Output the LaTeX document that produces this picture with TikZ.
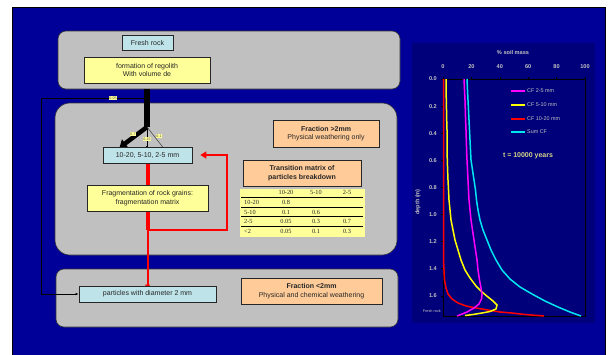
\documentclass[tikz,border=0pt]{standalone}
\usepackage{fontspec}
\setmainfont{Liberation Sans}
\newfontfamily\tabfont{Liberation Serif}
\usetikzlibrary{arrows.meta}
\definecolor{bgblue}{RGB}{0,0,153}
\definecolor{chartblue}{RGB}{0,0,122}
\definecolor{panelgray}{RGB}{192,192,192}
\definecolor{lblue}{RGB}{190,227,232}
\definecolor{lyellow}{RGB}{255,255,153}
\definecolor{peach}{RGB}{255,204,153}
\definecolor{tickgray}{RGB}{195,195,195}
\definecolor{ccyan}{RGB}{0,230,240}
\definecolor{cmag}{RGB}{255,0,255}
\definecolor{cyel}{RGB}{255,255,0}
\pgfdeclarelayer{base}
\pgfdeclarelayer{panels}
\pgfdeclarelayer{links}
\pgfsetlayers{base,panels,links,main}
\begin{document}
\begin{tikzpicture}[x=1pt,y=-1pt,
  box/.style={draw=black!85, line width=0.7pt, inner sep=0pt, align=center,
    font=\fontsize{7}{8.6}\selectfont, text=black!85},
  bluebox/.style={box, fill=lblue},
  yelbox/.style={box, fill=lyellow},
  peachbox/.style={box, fill=peach},
  panel/.style={fill=panelgray, draw=black!80, line width=0.6pt},
  wlab/.style={fill=lyellow, font=\fontsize{3.6}{4}\selectfont, inner sep=0.6pt, text=black!70},
  tabtxt/.style={font=\tabfont\fontsize{6.3}{7}\selectfont, inner sep=0pt, text=black!85},
  ticklab/.style={text=tickgray, font=\bfseries\fontsize{5.6}{6}\selectfont, inner sep=0pt},
  legtxt/.style={text=tickgray, font=\fontsize{5.4}{6}\selectfont, inner sep=0pt, anchor=west},
  curve/.style={line width=1.5pt, mark=square*, mark size=0.9pt, mark options={line width=0.3pt}},
]
\useasboundingbox (0,0) rectangle (610,354);
\begin{pgfonlayer}{base}
\fill[white] (0,0) rectangle (610,354);
\draw[fill=bgblue, draw=black, line width=0.5pt] (12,7) rectangle (605,355);
\end{pgfonlayer}

% ---------- panels ----------
\begin{pgfonlayer}{panels}
\draw[panel, rounded corners=8pt] (58,31) rectangle (400,89);
\draw[panel, rounded corners=15pt] (55,103) rectangle (397,255);
\draw[panel, rounded corners=8pt] (56,269) rectangle (398,327);
\end{pgfonlayer}

% ---------- nodes ----------
\node[bluebox, minimum width=51pt, minimum height=15pt] (fresh) at (147.5,42.5) {Fresh rock};
\node[yelbox, minimum width=126pt, minimum height=26pt] (form) at (147,70) {formation of regolith\\With volume de};
\node[bluebox, minimum width=89pt, minimum height=16pt] (sizes) at (147.5,155) {10-20, 5-10, 2-5 mm};
\node[yelbox, minimum width=121pt, minimum height=26pt] (frag) at (147.5,198) {Fragmentation of rock grains:\\fragmentation matrix};
\node[peachbox, minimum width=106pt, minimum height=27pt] (frac2) at (326,133.5) {\textbf{Fraction >2mm}\\Physical weathering only};
\node[peachbox, minimum width=118pt, minimum height=26pt] (trans) at (302,173) {\textbf{Transition matrix of}\\\textbf{particles breakdown}};
\node[bluebox, minimum width=137pt, minimum height=16pt] (part) at (147.5,294) {particles with diameter 2 mm};
\node[peachbox, minimum width=141pt, minimum height=26pt] (frac3) at (311.5,291) {\textbf{Fraction <2mm}\\Physical and chemical weathering};

% ---------- transition table ----------
\begin{pgfonlayer}{links}
\fill[lyellow] (240,189) rectangle (365,237);
\foreach \yy in {197.5,207,216.5,226}{\draw[black, line width=0.6pt] (241,\yy) -- (363,\yy);}
\end{pgfonlayer}
\node[tabtxt] (h1) at (286,192.5) {10-20};
\node[tabtxt] (h2) at (316,192.5) {5-10};
\node[tabtxt] (h3) at (347,192.5) {2-5};
\node[tabtxt, anchor=west] (r1) at (244,202.5) {10-20};
\node[tabtxt, anchor=west] (r2) at (244,212) {5-10};
\node[tabtxt, anchor=west] (r3) at (244,221.5) {2-5};
\node[tabtxt, anchor=west] (r4) at (244,231.5) {<2};
\node[tabtxt] (c11) at (286,202.5) {0.8};
\node[tabtxt] (c21) at (286,212) {0.1};
\node[tabtxt] (c22) at (316,212) {0.6};
\node[tabtxt] (c31) at (286,221.5) {0.05};
\node[tabtxt] (c32) at (316,221.5) {0.3};
\node[tabtxt] (c33) at (347,221.5) {0.7};
\node[tabtxt] (c41) at (286,231.5) {0.05};
\node[tabtxt] (c42) at (316,231.5) {0.1};
\node[tabtxt] (c43) at (347,231.5) {0.3};

% ---------- connectors ----------
\coordinate (topout) at (147,89);
\coordinate (j05) at (147,98);
\coordinate (split) at (147,127);
\coordinate (lft) at (41,98);
\coordinate (rj) at (147.5,230);
\coordinate (rturn) at (227,230);
\begin{pgfonlayer}{links}
\draw[line width=6pt] (topout) -- (split);
\draw[line width=4.5pt, -{Triangle[length=7pt,width=10pt]}] (split) -- ([xshift=-28pt,yshift=-1pt]sizes.north);
\draw[line width=0.6pt, -{Latex[length=2.5pt,width=2pt]}] (split) -- ([yshift=-2pt]sizes.north -| split);
\draw[line width=0.6pt, black!70] (split) -- ([xshift=17pt,yshift=-2pt]sizes.north -| split);
\draw[line width=0.8pt, -{Latex[length=3pt,width=2.5pt]}] (j05) -- (lft) |- (part.west);
\draw[red, line width=4pt] (sizes.south) -- (rj);
\draw[red, line width=2.6pt, -{Triangle[length=6pt,width=7pt]}] (rj) -- (rturn) |- ([xshift=8pt]sizes.east);
\draw[red, line width=2pt, -{Triangle[length=4pt,width=5pt]}] (rj) -- ([yshift=-3pt]part.north);
\end{pgfonlayer}
\node[wlab] (l05) at (113,98) {0.05};
\node[wlab] (l07) at (133,134) {0.7};
\node[wlab] (l015) at (147,139) {0.15};
\node[wlab] (l01) at (159,136) {0.1};

% ---------- chart ----------
\fill[chartblue] (412,43) rectangle (595,323);
\node[text=tickgray, font=\bfseries\fontsize{5.6}{6}\selectfont] (ctitle) at (513,52) {\% soil mass};
\foreach \v/\lab in {0/0,1/20,2/40,3/60,4/80,5/100}{
  \node[ticklab] at (443+28.4*\v,67) {\lab};
  \draw[black, line width=0.5pt] (443+28.4*\v,79) -- (443+28.4*\v,76.5);
}
\foreach \d/\lab in {0/0.0,1/0.2,2/0.4,3/0.6,4/0.8,5/1.0,6/1.2,7/1.4,8/1.6}{
  \node[ticklab, anchor=east] at (437,79+27.1*\d) {\lab};
  \draw[black, line width=0.5pt] (443,79+27.1*\d) -- (440.5,79+27.1*\d);
}
\node[ticklab, rotate=90] (depthlab) at (418,202) {depth (m)};
\node[text=tickgray, font=\fontsize{3.8}{4}\selectfont, anchor=east, inner sep=0pt] (freshlab) at (441,311.5) {Fresh rock};
\draw[black, line width=0.6pt] (443,79) rectangle (585,316);

% curves
\draw[curve, red, mark options={fill=red}] plot coordinates {(443.5,79) (443.5,95) (443.5,110) (443.5,125) (443.5,140) (443.5,150) (443.5,160) (443.5,170) (443.5,180) (443.5,190) (443.5,200) (443.5,210) (443.5,220) (443.5,230) (443.5,240) (443.5,250) (443.5,260) (444,270) (444.5,280) (446,288) (448,294) (452,299) (458,303) (466,306) (476,308) (488,310) (500,312) (512,313) (525,314.5) (544,316)};
\draw[curve, cyel, mark options={fill=cyel}] plot coordinates {(446,79) (446,90) (446.3,100) (446.5,110) (446.7,120) (447,130) (447,140) (447,150) (447.3,160) (447.6,170) (448,180) (448.5,190) (449,200) (450,210) (451,220) (453,230) (455,240) (458,250) (461,260) (465,270) (470,278) (476,286) (482,292) (488,297) (493,301) (497,305) (496,309) (490,311.5) (482,313) (473,314.5) (465,315.5)};
\draw[curve, cmag, mark options={fill=cmag}] plot coordinates {(464,79) (464.5,90) (465,100) (465.3,110) (465.6,120) (466,130) (466.3,140) (466.6,150) (467,160) (467.5,170) (468,180) (468.5,190) (469,200) (470,210) (471,220) (472.5,230) (474,240) (475.5,250) (477,260) (478,270) (479.5,280) (481,288) (482,294) (481.5,299) (479,304) (474,308) (467,312) (457,316)};
\draw[curve, ccyan, mark options={fill=ccyan}] plot coordinates {(467,79) (467.5,90) (468,100) (468.5,110) (469,120) (469.5,130) (470,140) (470.5,150) (471,160) (472.5,170) (474,180) (475.5,190) (476.5,200) (478,210) (480,220) (483,230) (487,240) (491,250) (496,260) (502,270) (510,279) (520,287) (532,294) (545,301) (558,307) (570,312) (581,316)};

% legend
\draw[curve, cmag, mark options={fill=cmag}] plot coordinates {(511,91) (518,91) (525,91)};
\node[legtxt] (lg1) at (527,91) {CF 2-5 mm};
\draw[curve, cyel, mark options={fill=cyel}] plot coordinates {(511,105) (518,105) (525,105)};
\node[legtxt] (lg2) at (527,105) {CF 5-10 mm};
\draw[curve, red, mark options={fill=red}] plot coordinates {(511,119) (518,119) (525,119)};
\node[legtxt] (lg3) at (527,119) {CF 10-20 mm};
\draw[curve, ccyan, mark options={fill=ccyan}] plot coordinates {(511,132) (518,132) (525,132)};
\node[legtxt] (lg4) at (527,132) {Sum CF};
\node[text=tickgray!70!yellow, font=\bfseries\fontsize{7}{8}\selectfont, inner sep=0pt] (tyears) at (528,156) {t = 10000 years};
\end{tikzpicture}
\end{document}
